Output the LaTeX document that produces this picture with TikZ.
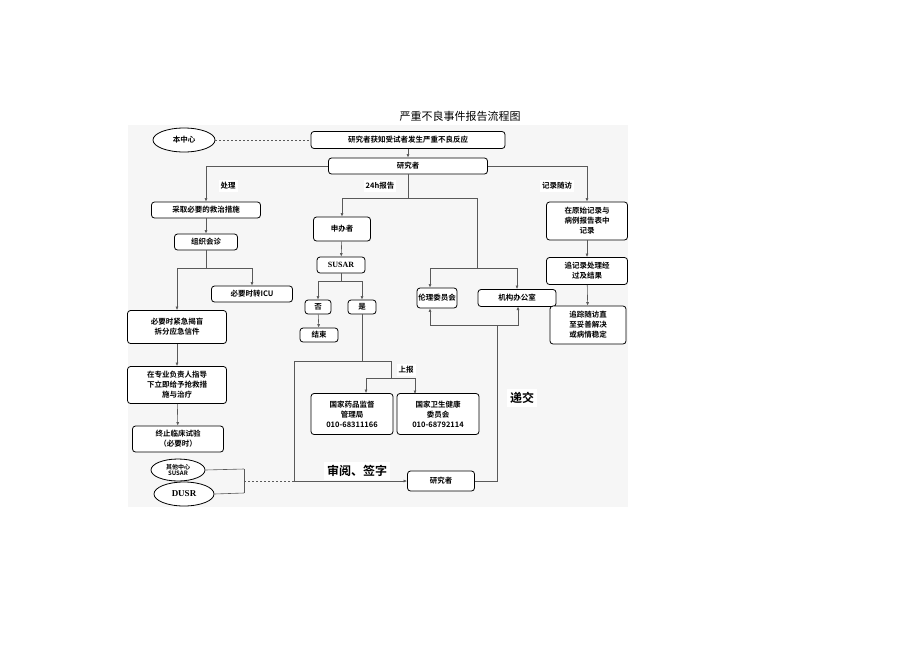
\documentclass[tikz,border=0pt]{standalone}
\usepackage{fontspec}
\setmainfont{Liberation Serif}
\newfontfamily\cjkbf{Noto Sans CJK SC Bold}
\newfontfamily\cjk{Noto Sans CJK SC}
\usetikzlibrary{arrows.meta,positioning,shapes.geometric}
\tikzset{
  box/.style={draw, thick, rounded corners=3pt, fill=white, align=center, inner sep=1pt,
    font=\cjkbf\fontsize{7.5}{10}\selectfont},
  oval/.style={draw, thick, ellipse, fill=white, align=center, inner sep=0pt,
    font=\cjkbf\fontsize{7.5}{8}\selectfont},
  tag/.style={fill=white, inner sep=2pt, font=\cjkbf\fontsize{7.5}{9}\selectfont},
  bigtag/.style={fill=white, inner sep=3pt, font=\cjkbf\fontsize{12}{14}\selectfont},
  link/.style={semithick, gray!70!black},
  arr/.style={link, -{Latex[length=3.5pt,width=3pt]}},
}
\begin{document}
\begin{tikzpicture}[x=1pt,y=-1pt]
    \useasboundingbox (0,0) rectangle (920,651);
    \fill[gray!7] (128,125) rectangle (628,507);
    \node[font=\cjk\fontsize{11}{13}\selectfont] (title) at (460,116) {严重不良事件报告流程图};

    % Top
    \node[oval, minimum width=62, minimum height=24] (center) at (184,140) {本中心};
    \node[box, minimum width=194, minimum height=17] (aware) at (408,140) {研究者获知受试者发生严重不良反应};
    \node[box, minimum width=159, minimum height=16] (inv) at (408,166) {研究者};
    \draw[link, dashed, dash pattern=on 2pt off 2pt] (center) -- (aware);
    \draw[arr] (aware) -- (inv);

    % Treatment branch
    \node[box, minimum width=109, minimum height=16] (rescue) at (206,210) {采取必要的救治措施};
    \node[box, minimum width=63, minimum height=16] (consult) at (206,242) {组织会诊};
    \node[box, minimum width=81, minimum height=16] (icu) at (252,294) {必要时转ICU};
    \node[box, minimum width=99, minimum height=33] (unblind) at (177,327) {必要时紧急揭盲\\拆分应急信件};
    \node[box, minimum width=99, minimum height=37] (guide) at (177,385) {在专业负责人指导\\下立即给予抢救措\\施与治疗};
    \node[box, minimum width=91, minimum height=26] (stop) at (178,439) {终止临床试验\\（必要时）};
    \node[oval, minimum width=54, minimum height=22, font=\cjkbf\fontsize{6}{6.5}\selectfont] (other) at (178,470) {其他中心\\SUSAR};
    \node[oval, minimum width=60, minimum height=24, font=\bfseries\fontsize{9}{10}\selectfont] (dusr) at (184,494) {DUSR};
    \draw[arr] (inv.west) -| (rescue);
    \draw[arr] (rescue) -- (consult);
    \draw[link] (consult) -- (206,268) coordinate (split);
    \draw[arr] (177,268) -| (icu);
    \draw[arr] (177,268) -- (unblind);
    \draw[arr] (unblind) -- (guide);
    \draw[arr] (guide) -- (stop);
    \node[tag] (treat) at (228,186) {处理};

    % Report branch
    \node[box, minimum width=57, minimum height=24] (sponsor) at (342,229) {申办者};
    \node[box, minimum width=48, minimum height=16, font=\bfseries\fontsize{8}{9}\selectfont] (susar) at (341,265) {SUSAR};
    \node[box, minimum width=26, minimum height=14] (no) at (318,307) {否};
    \node[box, minimum width=28, minimum height=14] (yes) at (362,307) {是};
    \node[box, minimum width=38, minimum height=14] (end) at (319,335) {结束};
    \node[box, minimum width=82, minimum height=41] (nmpa) at (352,414) {国家药品监督\\管理局\\010-68311166};
    \node[box, minimum width=82, minimum height=41] (nhc) at (438,414) {国家卫生健康\\委员会\\010-68792114};
    \node[box, minimum width=40, minimum height=20] (ethics) at (437,298) {伦理委员会};
    \node[box, minimum width=78, minimum height=17] (office) at (517,298) {机构办公室};
    \node[box, minimum width=67, minimum height=20] (inv2) at (441,481) {研究者};
    \draw[link] (inv) -- (408,198) coordinate (hub);
    \draw[arr] (hub) -| (sponsor);
    \draw[link] (hub) -| (477,268);
    \draw[arr] (430,268) -- (ethics.north -| 430,0);
    \draw[arr] (430,268) -| (office);
    \draw[arr] (sponsor) -- (susar);
    \draw[link] (susar) -- (341,281);
    \draw[arr] (318,281) -- (no);
    \draw[arr] (318,281) -| (yes);
    \draw[link] (341,281) -- (318,281);
    \draw[arr] (no) -- (end);
    \draw[link] (yes) -- (362,361);
    \draw[link] (294,361) -- (391,361) -- (391,378);
    \draw[arr] (366,378) -- (nmpa.north -| 366,0);
    \draw[arr] (366,378) -| (415,394);
    \draw[arr] (294,361) |- (inv2);
    \draw[link] (inv2) -| (497,325);
    \draw[arr] (430,325) -- (ethics.south -| 430,0);
    \draw[arr] (430,325) -| (518,306.5);
    \draw[link] (244,469) -- (244,493);
    \draw[link] (other.east) -- (244,469);
    \draw[link] (dusr.east) -- (244,493);
    \draw[link, dashed, dash pattern=on 2pt off 2pt] (244,481) -- (294,481);
    \node[tag] (report) at (380,186) {24h报告};
    \node[tag] (up) at (406,370) {上报};
    \node[bigtag] (sign) at (357,471) {审阅、签字};
    \node[bigtag] (submit) at (522,398) {递交};

    % Follow-up branch
    \node[box, minimum width=81, minimum height=38] (record) at (587,221) {在原始记录与\\病例报告表中\\记录};
    \node[box, minimum width=81, minimum height=27] (trace) at (587,271) {追记录处理经\\过及结果};
    \node[box, minimum width=76, minimum height=38] (follow) at (588,325) {追踪随访直\\至妥善解决\\或病情稳定};
    \draw[arr] (inv.east) -| (record);
    \draw[arr] (record) -- (trace);
    \draw[arr] (trace) -- (follow);
    \node[tag] (visit) at (557,186) {记录随访};
\end{tikzpicture}
\end{document}
